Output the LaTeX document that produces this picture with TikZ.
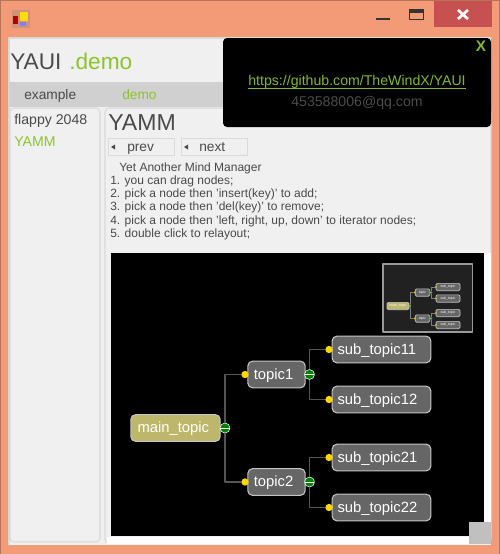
\documentclass[tikz,border=0pt]{standalone}
\usepackage{fontspec}
\setmainfont{Liberation Sans}
\usetikzlibrary{arrows.meta,positioning}
\definecolor{frameorange}{HTML}{F39A76}
\definecolor{closered}{HTML}{C75050}
\definecolor{panelgray}{HTML}{F0F0F0}
\definecolor{tabgray}{HTML}{D0D0D0}
\definecolor{edgegray}{HTML}{DADADA}
\definecolor{inkgray}{HTML}{4A4A4A}
\definecolor{leafgreen}{HTML}{8CC42C}
\definecolor{linkgreen}{HTML}{84B82C}
\definecolor{mailgray}{HTML}{4C4C4C}
\definecolor{topicgray}{HTML}{666666}
\definecolor{mainolive}{HTML}{BDB76B}
\definecolor{nodeedge}{HTML}{C4C4C4}
\definecolor{wiregray}{HTML}{555555}
\definecolor{dotyellow}{HTML}{FFD700}
\definecolor{expgreen}{HTML}{008000}
\definecolor{gripgray}{HTML}{C0C0C0}
\tikzset{
  every picture/.style={line join=round, line cap=round, >=Stealth},
  topicbox/.style={draw=nodeedge, fill=topicgray, rounded corners=3.5pt, line width=0.8pt, minimum height=20pt, inner sep=0pt, text=white, text height=8.2pt, text depth=1pt, font=\fontsize{11.1pt}{12pt}\selectfont},
  mainbox/.style={topicbox, fill=mainolive},
  dot/.style={circle, fill=dotyellow, inner sep=0pt, minimum size=5.5pt},
  expander/.style={circle, draw=white, fill=expgreen, line width=0.4pt, inner sep=0pt, minimum size=7.5pt, path picture={\draw[white, line width=0.6pt] (path picture bounding box.west)--(path picture bounding box.east);}},
  wire/.style={draw=wiregray, line width=1pt, line cap=butt},
  minibox/.style={draw=nodeedge, fill=topicgray, rounded corners=1pt, line width=0.5pt, inner sep=0pt, text=white, font=\fontsize{2.6pt}{3pt}\selectfont},
  minidot/.style={circle, fill=dotyellow, inner sep=0pt, minimum size=1.4pt},
  miniexp/.style={circle, fill=expgreen!60!white, inner sep=0pt, minimum size=2.2pt},
  miniwire/.style={draw=gray, line width=0.5pt},
  btn/.style={draw=edgegray, line width=0.8pt, fill=panelgray, anchor=north west, inner sep=0pt, minimum width=50pt, minimum height=12.5pt},
  label/.style={anchor=base west, inner sep=0pt, text=inkgray},
  step line/.style={label, font=\fontsize{9pt}{10pt}\selectfont},
}
\begin{document}
\begin{tikzpicture}[x=0.75pt,y=-0.75pt]
\useasboundingbox (0,0) rectangle (500,554);
% window
\fill[frameorange] (0,0) rectangle (500,554);
\draw[frameorange!75!black, line width=0.8pt] (0.5,554)--(0.5,0.5)--(499.5,0.5)--(499.5,554);
\fill[closered] (434,1) rectangle (492,27);
\draw[white, line width=2pt, line cap=butt] (458,10)--(468,19) (468,10)--(458,19);
\draw[black!80, line width=1.5pt, line cap=butt] (376,19)--(390,19);
\draw[black!80, line width=1pt] (409.5,9.5) rectangle (423.5,19.5);
\fill[black!80] (409.5,9.5) rectangle (423.5,12.5);
% icon
\fill[frameorange!70!gray] (12,10) rectangle (30,28);
\fill[red!70!black] (13,16) rectangle (18,24);
\fill[yellow!80!orange] (20,12) rectangle (28,21);
\fill[blue!50!white] (20,22) rectangle (26,26);
% client area
\fill[panelgray] (9,38) rectangle (491,545);
\draw[white!85!black, line width=0.8pt] (9,545)--(9,38)--(491,38);
\fill[tabgray] (9,82) rectangle (491,107);
\draw[edgegray, line width=0.8pt, rounded corners=3pt] (10,108) rectangle (100,542);
\draw[edgegray, line width=0.8pt, rounded corners=3pt] (105,108) rectangle (491,543);
\node[label, font=\fontsize{17pt}{20pt}\selectfont] (title) at (10,69) {YAUI};
\node[label, font=\fontsize{17pt}{20pt}\selectfont, text=leafgreen] (demo) at (69,69) {.demo};
\node[label, font=\fontsize{10.3pt}{12pt}\selectfont] (tab_example) at (24,99) {example};
\node[label, font=\fontsize{10.3pt}{12pt}\selectfont, text=leafgreen] (tab_demo) at (122,99) {demo};
\node[label, font=\fontsize{10.6pt}{12pt}\selectfont] (item_flappy) at (14,124) {flappy 2048};
\node[label, font=\fontsize{10.6pt}{12pt}\selectfont, text=leafgreen] (item_yamm) at (14,146) {YAMM};
\node[label, font=\fontsize{17.3pt}{20pt}\selectfont] (yamm) at (108,130) {YAMM};
% buttons
\node[btn] (prev) at (107.5,138) {};
\node[btn] (next) at (180.5,138) {};
\node[label, font=\fontsize{10.3pt}{12pt}\selectfont] at (127,151) {prev};
\node[label, font=\fontsize{10.3pt}{12pt}\selectfont] at (199,151) {next};
\foreach \x in {111,184}{\fill[inkgray] (\x,147)--(\x+4,144.5)--(\x+4,149.5)--cycle;}
% help text
\node[step line] at (119,171) {Yet Another Mind Manager};
\node[step line] at (110,184) {1. you can drag nodes;};
\node[step line] at (110,197) {2. pick a node then 'insert(key)' to add;};
\node[step line] at (110,210) {3. pick a node then 'del(key)' to remove;};
\node[step line] at (110,224) {4. pick a node then 'left, right, up, down' to iterator nodes;};
\node[step line] at (110,237) {5. double click to relayout;};
% canvas
\fill[white] (107,537) rectangle (483,544);
\fill[white] (484,253) rectangle (491,544);
\fill[black] (111,253) rectangle (484,536);
\fill[gripgray] (469,522) rectangle (491,544);
% popup
\fill[black, rounded corners=3pt] (223,38) rectangle (491,127);
\node[font=\bfseries\fontsize{11.5pt}{12pt}\selectfont, text=linkgreen, inner sep=0pt] (close_x) at (481,46) {X};
\node[font=\fontsize{10.6pt}{12pt}\selectfont, text=linkgreen, inner sep=0pt] (link) at (357,82) {https://github.com/TheWindX/YAUI};
\draw[linkgreen, line width=0.8pt, line cap=butt] (link.west |- 0,88.5)--(link.east |- 0,88.5);
\node[font=\fontsize{10.6pt}{12pt}\selectfont, text=mailgray, inner sep=0pt] (mail) at (357,103) {453588006@qq.com};
% mind map
\node[mainbox, minimum width=67pt, text width=57pt] (main_topic) at (175.5,428) {main\_topic};
\foreach \n/\y in {topic1/374.5,topic2/482}{
  \node[topicbox, minimum width=43pt, text width=34pt] (\n) at (276.5,\y) {\n};
  \node[dot] (\n_dot) at (245,\y) {};
  \node[expander] (\n_exp) at (309.5,\y) {};
}
\foreach \n/\t/\y in {s11/sub\_topic11/349.5,s12/sub\_topic12/399.5,s21/sub\_topic21/457.5,s22/sub\_topic22/507.5}{
  \node[topicbox, minimum width=74pt, text width=66pt] (\n) at (381.5,\y) {\t};
  \node[dot] (\n_dot) at (329,\y) {};
}
\node[expander] (main_exp) at (225,428) {};
\draw[wire] (main_exp) |- (topic1_dot);
\draw[wire] (main_exp) |- (topic2_dot);
\draw[wire] (topic1_exp) |- (s11_dot);
\draw[wire] (topic1_exp) |- (s12_dot);
\draw[wire] (topic2_exp) |- (s21_dot);
\draw[wire] (topic2_exp) |- (s22_dot);
% minimap
\draw[gray!80, fill=black!87, line width=0.8pt] (383,264) rectangle (472.5,332);
\node[minibox, fill=mainolive, minimum width=16.5pt, minimum height=5.5pt] (mini_main) at (398,306) {main\_topic};
\foreach \n/\y in {a/292.5,b/318.5}{
  \node[minibox, minimum width=11pt, minimum height=5.5pt] (mini_\n) at (422.5,\y) {topic};
  \node[minidot] (mini_\n_dot) at (414.5,\y) {};
  \node[miniexp] (mini_\n_exp) at (431,\y) {};
}
\foreach \n/\y in {c/287,d/298.5,e/313,f/325}{
  \node[minibox, minimum width=18pt, minimum height=5.5pt] (mini_\n) at (448,\y) {sub\_topic};
  \node[minidot] (mini_\n_dot) at (436,\y) {};
}
\node[miniexp] (mini_exp) at (410,306) {};
\draw[miniwire] (mini_exp) |- (mini_a_dot);
\draw[miniwire] (mini_exp) |- (mini_b_dot);
\draw[miniwire] (mini_a_exp) |- (mini_c_dot);
\draw[miniwire] (mini_a_exp) |- (mini_d_dot);
\draw[miniwire] (mini_b_exp) |- (mini_e_dot);
\draw[miniwire] (mini_b_exp) |- (mini_f_dot);
\end{tikzpicture}
\end{document}
